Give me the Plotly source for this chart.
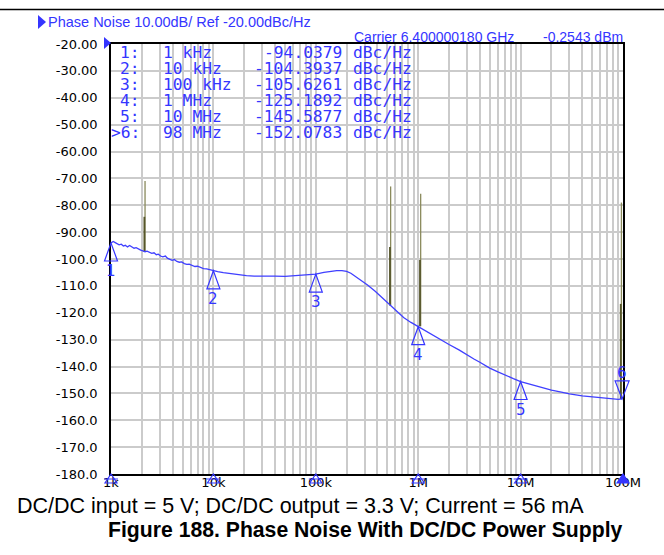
import numpy as np
import plotly.graph_objects as go

# ---- measured phase-noise trace (offset frequency in Hz, dBc/Hz) ----
noise_freq = [
    1000, 1050, 1100, 1150, 1200, 1260, 1320, 1380, 1450, 1520, 1600, 1680, 1760,
    1850, 1950, 2050, 2150, 2250, 2370, 2500, 2630, 2770, 2900, 3050, 3200, 3400,
    3550, 3750, 3950, 4150, 4400, 4650, 4900, 5200, 5500, 5800, 6200, 6600, 7000,
    7500, 8000, 8600, 9300, 10000, 11000, 12500, 14000, 16000, 18000, 21000, 25000,
    30000, 35000, 40000, 50000, 60000, 70000, 80000, 90000, 100000, 120000, 140000,
    160000, 180000, 200000, 220000, 250000, 280000, 320000, 380000, 450000, 530000,
    620000, 720000, 850000, 1000000, 1200000, 1400000, 1600000, 2000000, 2500000,
    3000000, 3500000, 4000000, 5000000, 6000000, 7000000, 8500000, 10000000,
    12000000, 15000000, 20000000, 25000000, 30000000, 40000000, 50000000, 60000000,
    70000000, 80000000, 90000000, 98000000,
]
noise_dbc = [
    -94.04, -93.5, -93.9, -94.3, -94.7, -94.5, -95.2, -94.9, -95.5, -95.0, -95.6, -96.0, -95.8,
    -96.4, -96.7, -97.0, -97.3, -97.1, -97.6, -97.9, -97.7, -98.4, -98.2, -98.9, -99.2, -98.9,
    -99.7, -100.0, -100.5, -100.2, -100.9, -101.2, -101.1, -101.7, -102.0, -101.9, -102.5, -102.8, -102.7,
    -103.3, -103.6, -103.7, -104.1, -104.39, -104.7, -105.1, -105.4, -105.7, -106.0, -106.2, -106.4,
    -106.5, -106.6, -106.4, -106.5, -106.3, -106.1, -105.9, -105.8, -105.63, -105.0, -104.5,
    -104.3, -104.3, -104.6, -105.3, -106.7, -108.0, -109.7, -112.0, -114.6, -117.3,
    -119.6, -121.8, -123.6, -125.19, -127.0, -128.3, -129.6, -131.8, -133.8,
    -135.8, -137.2, -138.4, -140.6, -142.0, -143.2, -144.5, -145.59,
    -146.5, -147.5, -148.8, -149.5, -150.2, -150.9, -151.3, -151.6,
    -151.8, -152.0, -152.2, -152.08,
]

# ---- discrete spurs: frequency, tall line top, short line top, floor level ----
spur_freq = [2150, 538000, 1057000, 96500000]
spur_top_tall = [-71.0, -73.0, -75.7, -79.0]
spur_top_short = [-84.3, -95.5, -100.4, -116.7]
spur_floor = [-97.3, -117.3, -125.0, -152.1]

# ---- marker table ----
marker_ids = ["1:", "2:", "3:", "4:", "5:", ">6:"]
marker_freq_text = ["1 kHz", "10 kHz", "100 kHz", "1 MHz", "10 MHz", "98 MHz"]
marker_freq = [1e3, 1e4, 1e5, 1e6, 1e7, 98e6]
marker_val = [-94.0379, -104.3937, -105.6261, -125.1892, -145.5877, -152.0783]
marker_num = ["1", "2", "3", "4", "5", "6"]
active_marker = 5
# frequency-axis indicators (sweep points shown under the axis)
axis_marker_freq = [1e3, 1e4, 1e5, 1e6, 1e7, 1e8]

# ---- axis ticks ----
x_tick_vals = [1e3, 1e4, 1e5, 1e6, 1e7, 1e8]
x_tick_text = ["1k", "10k", "100k", "1M", "10M", "100M"]
y_tick_vals = list(range(-20, -181, -10))
y_tick_text = [f"{v:.2f}" if v > -100 else f"{v:.1f}" for v in y_tick_vals]
X_RANGE = [3, 8]      # log10 of 1 kHz .. 100 MHz
Y_RANGE = [-180, -20]

BLUE = "#3535ff"
TRACE_BLUE = "#3f3fff"
GRID = "#cbcbcb"

# plot area in pixels
W_FIG, H_FIG = 664, 555
L, R, T, B = 111, 41, 44, 81
PW, PH = W_FIG - L - R, H_FIG - T - B


def px_x(px):
    return (px - L) / PW


def px_y(py):
    return (T + PH - py) / PH


def x_dom(f):
    """Fraction of the x-axis domain for a frequency on the log axis."""
    return (np.log10(f) - X_RANGE[0]) / (X_RANGE[1] - X_RANGE[0])


def y_dom(v):
    return (v - Y_RANGE[0]) / (Y_RANGE[1] - Y_RANGE[0])


fig = go.Figure()

# spurs (tall lighter line plus shorter darker line next to it)
for f, tt, ts, fl in zip(spur_freq, spur_top_tall, spur_top_short, spur_floor):
    fig.add_trace(go.Scatter(x=[f, f], y=[fl, tt], mode="lines",
                             line=dict(color="#8a8a5c", width=1.3),
                             hoverinfo="skip", showlegend=False))
    fig.add_trace(go.Scatter(x=[f * 0.985, f * 0.985], y=[fl, ts], mode="lines",
                             line=dict(color="#55552a", width=1.8),
                             hoverinfo="skip", showlegend=False))

# phase-noise curve
fig.add_trace(go.Scatter(x=noise_freq, y=noise_dbc, mode="lines",
                         line=dict(color=TRACE_BLUE, width=1.3),
                         hoverinfo="skip", showlegend=False))

shapes = []
annotations = []

# marker triangles on the trace and the matching labels
for i, (f, v, n) in enumerate(zip(marker_freq, marker_val, marker_num)):
    if i == active_marker:
        path = "M0,0 L-7,18 L7,18 Z"
        label_shift = 26
    else:
        path = "M0,0 L-6.5,-18 L6.5,-18 Z"
        label_shift = -28
    shapes.append(dict(type="path", xref="x domain", yref="y domain",
                       xsizemode="pixel", ysizemode="pixel",
                       xanchor=x_dom(f), yanchor=y_dom(v), path=path,
                       line=dict(color=BLUE, width=1.2), layer="above"))
    annotations.append(dict(x=float(np.log10(f)), y=v, xref="x", yref="y", text=n,
                            showarrow=False, yshift=label_shift,
                            font=dict(family="DejaVu Sans", size=15, color=BLUE)))

for i, f in enumerate(axis_marker_freq):
    active = i == len(axis_marker_freq) - 1
    shapes.append(dict(type="path", xref="x domain", yref="y domain",
                       xsizemode="pixel", ysizemode="pixel",
                       xanchor=x_dom(f), yanchor=0,
                       path="M0,0 L-6,-9 L6,-9 Z",
                       fillcolor=BLUE if active else "rgba(0,0,0,0)",
                       line=dict(color=BLUE, width=1.2), layer="above"))
    if not active:
        shapes.append(dict(type="path", xref="x domain", yref="y domain",
                           xsizemode="pixel", ysizemode="pixel",
                           xanchor=x_dom(f), yanchor=0, path="M-7,-5 L7,-5",
                           line=dict(color=BLUE, width=1), layer="above"))

# marker readout table
row_y = [52, 68, 84, 100, 116.5, 132.5]
mono = dict(family="DejaVu Sans Mono", size=16.3, color=BLUE)
for i in range(len(marker_ids)):
    y = px_y(row_y[i])
    cells = [(141, "right", marker_ids[i]),
             (162, "left", marker_freq_text[i]),
             (343, "right", f"{marker_val[i]:.4f}"),
             (352, "left", "dBc/Hz")]
    for xp, anchor, txt in cells:
        annotations.append(dict(x=px_x(xp), y=y, xref="paper", yref="paper", text=txt,
                                xanchor=anchor, yanchor="middle", showarrow=False,
                                borderpad=0, font=mono))

# header texts
hdr = dict(family="Liberation Sans", size=14.5, color=BLUE)
annotations += [
    dict(x=px_x(46), y=px_y(22), xref="paper", yref="paper",
         text="Phase Noise 10.00dB/ Ref -20.00dBc/Hz", xanchor="left",
         yanchor="middle", showarrow=False, font=hdr),
    dict(x=px_x(352), y=px_y(37), xref="paper", yref="paper",
         text="Carrier 6.400000180 GHz", xanchor="left", yanchor="middle",
         showarrow=False, font=dict(family="Liberation Sans", size=14, color=BLUE)),
    dict(x=px_x(625), y=px_y(37), xref="paper", yref="paper",
         text="-0.2543 dBm", xanchor="right", yanchor="middle",
         showarrow=False, font=dict(family="Liberation Sans", size=14, color=BLUE)),
    dict(x=px_x(15), y=px_y(506), xref="paper", yref="paper",
         text="DC/DC input = 5 V; DC/DC output = 3.3 V; Current = 56 mA",
         xanchor="left", yanchor="middle", showarrow=False,
         font=dict(family="Liberation Sans", size=21.5, color="black")),
    dict(x=px_x(625), y=px_y(530), xref="paper", yref="paper",
         text="<b>Figure 188. Phase Noise With DC/DC Power Supply</b>",
         xanchor="right", yanchor="middle", showarrow=False,
         font=dict(family="Liberation Sans", size=21.2, color="black")),
]

# header pointer, reference-level pointer and separator line
shapes += [
    dict(type="path", xref="paper", yref="paper", xsizemode="pixel", ysizemode="pixel",
         xanchor=px_x(38), yanchor=px_y(22), path="M0,7 L8,0 L0,-7 Z",
         fillcolor=BLUE, line=dict(width=0)),
    dict(type="path", xref="paper", yref="paper", xsizemode="pixel", ysizemode="pixel",
         xanchor=px_x(104), yanchor=px_y(43), path="M0,6 L7,0 L0,-6 Z",
         fillcolor=BLUE, line=dict(width=0)),
    dict(type="line", xref="paper", yref="paper", x0=px_x(0), x1=px_x(664),
         y0=px_y(9.5), y1=px_y(9.5), line=dict(color="black", width=1.3)),
]

minor_vals = [k * 10 ** d for d in range(3, 8) for k in range(2, 10)]

fig.update_layout(
    width=W_FIG, height=H_FIG,
    margin=dict(l=L, r=R, t=T, b=B),
    paper_bgcolor="white", plot_bgcolor="white",
    shapes=shapes, annotations=annotations,
    xaxis=dict(type="log", range=X_RANGE, tickmode="array", tickvals=x_tick_vals,
               ticktext=x_tick_text, showgrid=True, gridcolor=GRID, gridwidth=1.6,
               minor=dict(tickmode="array", tickvals=minor_vals, showgrid=True,
                          gridcolor=GRID, gridwidth=1.6),
               showline=True, linecolor="black", linewidth=1.5, mirror=True,
               ticks="", zeroline=False, ticklabelstandoff=-4,
               tickfont=dict(family="DejaVu Sans", size=13, color="black")),
    yaxis=dict(range=Y_RANGE, tickmode="array", tickvals=y_tick_vals,
               ticktext=y_tick_text, showgrid=True, gridcolor=GRID, gridwidth=1.6,
               showline=True, linecolor="black", linewidth=1.5, mirror=True,
               ticks="", zeroline=False, ticklabelstandoff=9,
               tickfont=dict(family="DejaVu Sans", size=13, color="black")),
)

fig.write_html("out.html")
